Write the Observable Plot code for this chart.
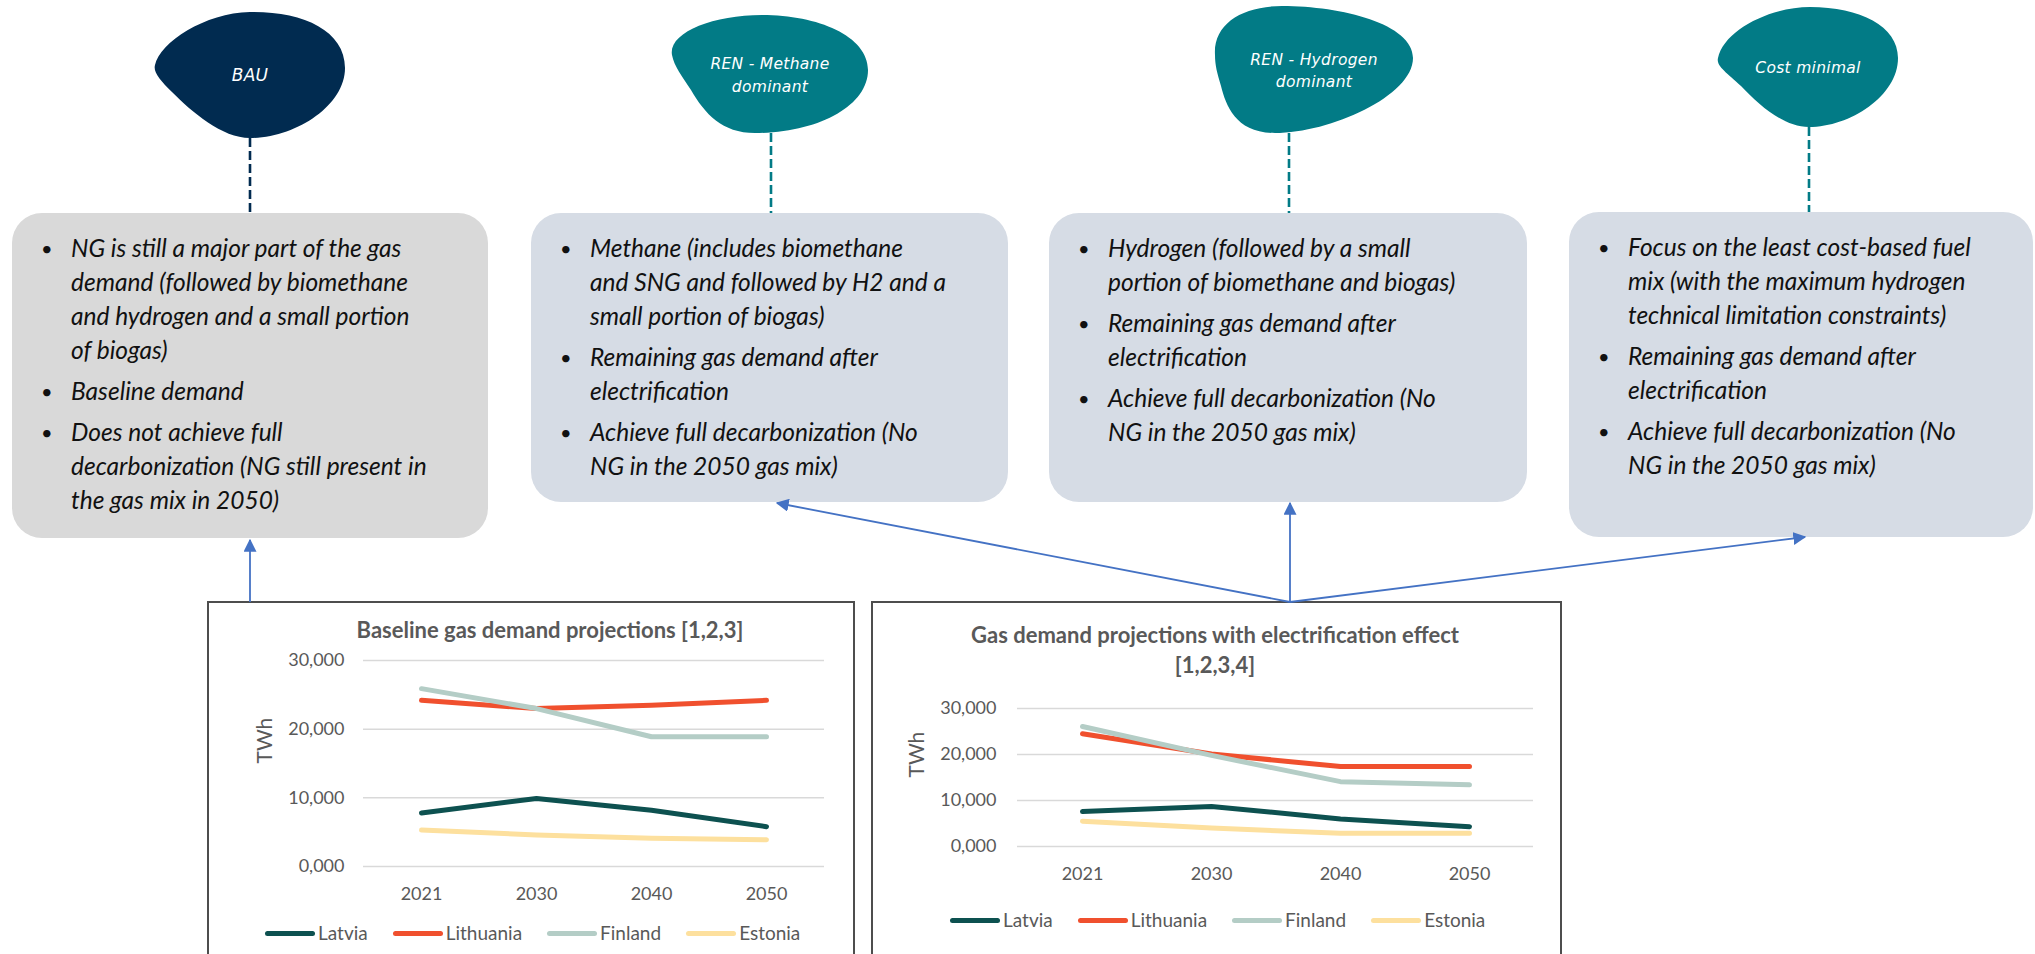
<!DOCTYPE html>
<html>
<head>
<meta charset="utf-8">
<script src="https://cdn.jsdelivr.net/npm/d3@7"></script>
<script src="https://cdn.jsdelivr.net/npm/@observablehq/plot@0.6"></script>
<style>
  html, body { margin: 0; padding: 0; background: #fff; }
  #page { position: relative; width: 2035px; height: 954px; overflow: hidden; background: #fff; font-family: Lato, "Open Sans", sans-serif; }
  .box { position: absolute; border-radius: 30px; box-sizing: border-box; padding-top: 17.5px;
         font: italic 24.5px/34px Lato, sans-serif; color: #111; white-space: nowrap; }
  .item { position: relative; padding-left: 59px; margin-bottom: 7px; }
  .item::before { content: "\2022"; position: absolute; left: 29px; top: 0; font-style: normal; font-size: 20px; }
  .chartbox { position: absolute; border: 2px solid #4d4d4d; box-sizing: border-box; background: #fff; }
  .ctitle { position: absolute; font: bold 22px/30px Lato, sans-serif; color: #595959; text-align: center; white-space: nowrap; transform: translateX(-50%); }
  .legend { position: absolute; display: flex; align-items: center; gap: 25px; font: 19px/22px Lato, sans-serif; color: #595959; white-space: nowrap; }
  .legend .it { display: flex; align-items: center; }
  .legend .sw { width: 50px; height: 5px; border-radius: 2.5px; margin-right: 3px; }
  .plotwrap { position: absolute; }
  #overlay { position: absolute; left: 0; top: 0; pointer-events: none; }
</style>
</head>
<body>
<div id="page"></div>
<script>
// ---------------- data ----------------
const years = ["2021", "2030", "2040", "2050"];
const countries = ["Latvia", "Lithuania", "Finland", "Estonia"];
const countryColors = ["#0d5150", "#f0502e", "#b4cdc6", "#fde09e"];
const yTicks = [0, 10, 20, 30];

// Baseline gas demand projections [1,2,3] (TWh)
const baselineLatvia    = [7.8, 9.9, 8.2, 5.8];
const baselineLithuania = [24.2, 23.0, 23.5, 24.2];
const baselineFinland   = [25.9, 23.0, 18.9, 18.9];
const baselineEstonia   = [5.3, 4.6, 4.1, 3.9];

// Gas demand projections with electrification effect [1,2,3,4] (TWh)
const electrLatvia    = [7.6, 8.7, 6.0, 4.3];
const electrLithuania = [24.5, 20.1, 17.4, 17.4];
const electrFinland   = [26.1, 19.8, 14.1, 13.4];
const electrEstonia   = [5.5, 4.0, 2.9, 2.9];

const scenarioNames = [["BAU"], ["REN - Methane", "dominant"], ["REN - Hydrogen", "dominant"], ["Cost minimal"]];
const scenarioBullets = [
  [["NG is still a major part of the gas", "demand (followed by biomethane", "and hydrogen and a small portion", "of biogas)"],
   ["Baseline demand"],
   ["Does not achieve full", "decarbonization (NG still present in", "the gas mix in 2050)"]],
  [["Methane (includes biomethane", "and SNG and followed by H2 and a", "small portion of biogas)"],
   ["Remaining gas demand after", "electrification"],
   ["Achieve full decarbonization (No", "NG in the 2050 gas mix)"]],
  [["Hydrogen (followed by a small", "portion of biomethane and biogas)"],
   ["Remaining gas demand after", "electrification"],
   ["Achieve full decarbonization (No", "NG in the 2050 gas mix)"]],
  [["Focus on the least cost-based fuel", "mix (with the maximum hydrogen", "technical limitation constraints)"],
   ["Remaining gas demand after", "electrification"],
   ["Achieve full decarbonization (No", "NG in the 2050 gas mix)"]]
];
const chartTitles = [["Baseline gas demand projections [1,2,3]"], ["Gas demand projections with electrification effect", "[1,2,3,4]"]];

// ---------------- layout ----------------
const page = document.getElementById("page");
const boxLayout = [
  {left: 12, top: 213, width: 476, height: 325, bg: "#d9d9d9"},
  {left: 531, top: 213, width: 477, height: 289, bg: "#d6dce5"},
  {left: 1049, top: 213, width: 478, height: 289, bg: "#d6dce5"},
  {left: 1569, top: 212, width: 464, height: 325, bg: "#d6dce5"}
];
boxLayout.forEach((b, i) => {
  const div = document.createElement("div");
  div.className = "box";
  Object.assign(div.style, {left: b.left + "px", top: b.top + "px", width: b.width + "px", height: b.height + "px", background: b.bg});
  scenarioBullets[i].forEach(lines => {
    const it = document.createElement("div");
    it.className = "item";
    it.innerHTML = lines.join("<br>");
    div.appendChild(it);
  });
  page.appendChild(div);
});

// chart frames
const frames = [{left: 207, top: 601, width: 648}, {left: 871, top: 601, width: 691}];
frames.forEach(f => {
  const d = document.createElement("div");
  d.className = "chartbox";
  Object.assign(d.style, {left: f.left + "px", top: f.top + "px", width: f.width + "px", height: "420px"});
  page.appendChild(d);
});

function fmt(d) { return d.toFixed(3).replace(".", ","); }

function makeChart(series, o) {
  const data = [];
  countries.forEach((c, i) => years.forEach((y, j) => data.push({country: c, year: y, value: series[i][j]})));
  const svg = Plot.plot({
    width: o.width, height: o.height,
    marginLeft: o.ml, marginRight: o.mr, marginTop: o.mt, marginBottom: o.mb,
    style: {fontFamily: "Lato, sans-serif", fontSize: "18px", color: "#595959", background: "transparent", overflow: "visible"},
    x: {type: "point", domain: years, padding: 0.5, label: null},
    y: {domain: [0, 30], label: null},
    color: {domain: countries, range: countryColors},
    marks: [
      Plot.gridY(yTicks, {stroke: "#d9d9d9", strokeOpacity: 1, strokeWidth: 1.5}),
      Plot.axisY(yTicks, {tickSize: 0, tickPadding: o.typ, tickFormat: fmt, label: null}),
      Plot.axisX({tickSize: 0, tickPadding: 21, label: null}),
      Plot.line(data, {x: "year", y: "value", z: "country", stroke: "country", strokeWidth: 5, strokeLinecap: "round", strokeLinejoin: "round"}),
      Plot.text(["TWh"], {text: d => d, frameAnchor: "left", dx: o.twhDx, rotate: -90, fontSize: 21, fill: "#595959"})
    ]
  });
  const wrap = document.createElement("div");
  wrap.className = "plotwrap";
  wrap.style.left = o.left + "px";
  wrap.style.top = o.top + "px";
  wrap.appendChild(svg);
  page.appendChild(wrap);
}

makeChart([baselineLatvia, baselineLithuania, baselineFinland, baselineEstonia],
  {left: 208, top: 601, width: 646, height: 353, ml: 155, mr: 30, mt: 59, mb: 88, typ: 19, twhDx: -98});
makeChart([electrLatvia, electrLithuania, electrFinland, electrEstonia],
  {left: 872, top: 601, width: 689, height: 353, ml: 145, mr: 28, mt: 107, mb: 108, typ: 21, twhDx: -100});

// chart titles
[{cx: 550, top: 615}, {cx: 1215, top: 620}].forEach((t, i) => {
  const d = document.createElement("div");
  d.className = "ctitle";
  d.style.left = t.cx + "px";
  d.style.top = t.top + "px";
  d.innerHTML = chartTitles[i].join("<br>");
  page.appendChild(d);
});

// legends
[{left: 265, top: 922}, {left: 950, top: 909}].forEach(l => {
  const d = document.createElement("div");
  d.className = "legend";
  d.style.left = l.left + "px";
  d.style.top = l.top + "px";
  countries.forEach((c, i) => {
    const it = document.createElement("div");
    it.className = "it";
    it.innerHTML = `<div class="sw" style="background:${countryColors[i]}"></div><span>${c}</span>`;
    d.appendChild(it);
  });
  page.appendChild(d);
});

// ---------------- overlay: blobs, connectors, arrows ----------------
const NS = "http://www.w3.org/2000/svg";
const ov = document.createElementNS(NS, "svg");
ov.setAttribute("id", "overlay");
ov.setAttribute("width", 2035);
ov.setAttribute("height", 954);
ov.innerHTML = `
<defs>
  <marker id="ah" viewBox="0 0 10 10" refX="9" refY="5" markerUnits="userSpaceOnUse" markerWidth="13" markerHeight="13" orient="auto">
    <path d="M0,0 L10,5 L0,10 z" fill="#4472c4"/>
  </marker>
</defs>`;
page.appendChild(ov);

const blobs = [
  {color: "#012b50", d: "M155,65 C160,42 205,13 250,12 C302,11 345,30 345,68 C345,106 295,138 250,138 C222,138 192,112 172,92 C160,80 153,72 155,65 Z",
   cx: 250, ty: [81], line: [250, 138, 213]},
  {color: "#027b86", d: "M672,55 C668,33 712,15 762,15 C818,15 868,36 868,70 C868,106 818,133 755,133 C722,133 705,114 691,90 C682,76 674,66 672,55 Z",
   cx: 770, ty: [69, 92], line: [771, 133, 213]},
  {color: "#027b86", d: "M1215,55 C1213,24 1242,6 1282,6 C1342,6 1413,24 1413,58 C1413,96 1330,133 1275,133 C1236,133 1226,106 1221,86 C1217,73 1215,65 1215,55 Z",
   cx: 1314, ty: [65, 87], line: [1289, 133, 213]},
  {color: "#027b86", d: "M1718,58 C1724,30 1770,7 1810,7 C1860,7 1898,26 1898,58 C1898,96 1850,127 1809,127 C1784,127 1760,106 1741,86 C1726,72 1716,66 1718,58 Z",
   cx: 1808, ty: [73], line: [1809, 127, 212]}
];
blobs.forEach((b, i) => {
  const p = document.createElementNS(NS, "path");
  p.setAttribute("d", b.d);
  p.setAttribute("fill", b.color);
  ov.appendChild(p);
  const ln = document.createElementNS(NS, "line");
  ln.setAttribute("x1", b.line[0]); ln.setAttribute("x2", b.line[0]);
  ln.setAttribute("y1", b.line[1]); ln.setAttribute("y2", b.line[2]);
  ln.setAttribute("stroke", b.color);
  ln.setAttribute("stroke-width", 2.6);
  ln.setAttribute("stroke-dasharray", "9 4");
  ov.appendChild(ln);
  scenarioNames[i].forEach((s, k) => {
    const t = document.createElementNS(NS, "text");
    t.setAttribute("x", b.cx);
    t.setAttribute("y", b.ty[k]);
    t.setAttribute("text-anchor", "middle");
    t.setAttribute("fill", "#ffffff");
    t.setAttribute("font-family", "DejaVu Sans, sans-serif");
    t.setAttribute("font-style", "italic");
    t.setAttribute("font-size", i === 0 ? "17" : "15.5");
    t.setAttribute("letter-spacing", "0.3");
    t.textContent = s;
    ov.appendChild(t);
  });
});

const arrows = [
  [250, 602, 250, 540],
  [1290, 602, 1290, 503],
  [1290, 602, 777, 503],
  [1290, 602, 1805, 537]
];
arrows.forEach(a => {
  const ln = document.createElementNS(NS, "line");
  ln.setAttribute("x1", a[0]); ln.setAttribute("y1", a[1]);
  ln.setAttribute("x2", a[2]); ln.setAttribute("y2", a[3]);
  ln.setAttribute("stroke", "#4472c4");
  ln.setAttribute("stroke-width", 1.8);
  ln.setAttribute("marker-end", "url(#ah)");
  ov.appendChild(ln);
});
</script>
</body>
</html>
